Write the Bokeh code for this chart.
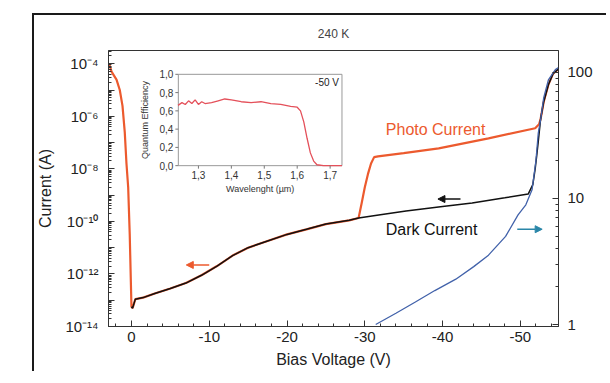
from bokeh.plotting import figure
from bokeh.models import (Range1d, LogAxis, FixedTicker, CustomJSTickFormatter,
                          Arrow, NormalHead, Label, LinearScale)
from bokeh.core.properties import value
from bokeh.embed import file_html
from bokeh.resources import INLINE

# ---------------- data ----------------
photo_v = [2.95, 2.82, 2.56, 1.92, 1.5, 1.15, 0.86, 0.64, 0.42, 0.22, 0.10, 0.02, 0.0,
           -0.15, -0.5, -1.5, -3.0, -5.0, -7.0, -9.0, -11.0, -13.0, -15.0, -17.5, -20.0,
           -22.5, -25.0, -28.0, -29.2, -29.6, -30.0, -30.4, -30.8, -31.2, -31.7, -35.0,
           -39.5, -45.9, -51.9, -52.4, -52.6, -53.0, -53.6, -54.2, -54.9]
photo_i = [9.5e-5, 9.1e-5, 5.0e-5, 2.5e-5, 1.0e-5, 2.5e-6, 2.5e-7, 1.6e-8, 2.0e-9, 3.2e-11,
           1.0e-12, 1.0e-13, 5.6e-14,
           5.0e-14, 1.1e-13, 1.26e-13, 1.8e-13, 2.8e-13, 4.5e-13, 8.9e-13, 2.0e-12, 5.0e-12,
           1.0e-11, 1.8e-11, 3.2e-11, 5.0e-11, 7.9e-11, 1.1e-10, 1.35e-10, 5.0e-10, 2.0e-9,
           6.3e-9, 1.6e-8, 2.8e-8, 3.0e-8, 4.0e-8, 6.0e-8, 1.45e-7, 3.5e-7, 5.0e-7, 7.9e-7,
           3.6e-6, 1.6e-5, 4.2e-5, 6.3e-5]

dark_v = [0.0, -0.15, -0.5, -1.5, -3.0, -5.0, -7.0, -9.0, -11.0, -13.0, -15.0, -17.5, -20.0,
          -22.5, -25.0, -28.0, -29.2, -32.0, -35.3, -40.0, -43.8, -48.0, -51.0, -51.6, -51.9,
          -52.1, -52.3, -52.6, -53.0, -53.6, -54.2, -54.9]
dark_i = [5.6e-14, 5.0e-14, 1.1e-13, 1.26e-13, 1.8e-13, 2.8e-13, 4.5e-13, 8.9e-13, 2.0e-12,
          5.0e-12, 1.0e-11, 1.8e-11, 3.2e-11, 5.0e-11, 7.9e-11, 1.1e-10, 1.35e-10, 1.8e-10,
          2.5e-10, 3.7e-10, 5.0e-10, 7.9e-10, 1.1e-9, 2.5e-9, 1.0e-8, 3.2e-8, 1.1e-7, 7.9e-7,
          3.6e-6, 1.6e-5, 4.2e-5, 6.3e-5]

gain_v = [-31.4, -34.0, -36.5, -39.0, -41.7, -44.0, -45.9, -48.1, -49.7, -50.7, -51.5, -52.0,
          -52.3, -52.6, -53.0, -53.6, -54.5, -55.0]
gain = [1.0, 1.23, 1.51, 1.86, 2.29, 2.88, 3.55, 5.0, 7.4, 8.9, 11.7, 20.0, 33.0, 42.0, 63.0,
        87.0, 105.0, 110.0]

qe_wl = [1.238, 1.25, 1.26, 1.27, 1.28, 1.29, 1.30, 1.31, 1.32, 1.34, 1.36, 1.38, 1.40, 1.43,
         1.46, 1.49, 1.52, 1.55, 1.58, 1.60, 1.61, 1.62, 1.63, 1.64, 1.65, 1.66, 1.68, 1.70, 1.736]
qe = [0.66, 0.69, 0.67, 0.71, 0.68, 0.72, 0.67, 0.70, 0.68, 0.69, 0.71, 0.73, 0.72, 0.70,
      0.69, 0.70, 0.68, 0.67, 0.65, 0.64, 0.60, 0.48, 0.30, 0.14, 0.05, 0.01, 0.0, 0.0, 0.0]

v_ticks = [0, -10, -20, -30, -40, -50]
v_labels = ["0", "-10", "-20", "-30", "-40", "-50"]
current_ticks = [1e-14, 1e-13, 1e-12, 1e-11, 1e-10, 1e-9, 1e-8, 1e-7, 1e-6, 1e-5, 1e-4]
current_labels = ["10\u207b\u00b9\u2074", "", "10\u207b\u00b9\u00b2", "", "10\u207b\u00b9\u2070", "",
                  "10\u207b\u2078", "", "10\u207b\u2076", "", "10\u207b\u2074"]
gain_ticks = [1, 10, 100]
gain_labels = ["1", "10", "100"]
wl_ticks = [1.3, 1.4, 1.5, 1.6, 1.7]
wl_labels = ["1,3", "1,4", "1,5", "1,6", "1,7"]
qe_ticks = [0.0, 0.2, 0.4, 0.6, 0.8, 1.0]
qe_labels = ["0,0", "0,2", "0,4", "0,6", "0,8", "1,0"]
wl_min, wl_max = 1.239, 1.736      # inset axis limits
qe_min, qe_max = 0.0, 1.0

FONT = "Liberation Sans"
RED = "#ec5a2e"
BLUE = "#4262aa"

LOG_LOOKUP = """
for (let i = 0; i < tvals.length; i++) {
  if (Math.abs(Math.log10(tvals[i]) - Math.log10(tick)) < 1e-6) return tlabels[i];
}
return "";
"""
LIN_LOOKUP = """
for (let i = 0; i < tvals.length; i++) {
  if (Math.abs(tvals[i] - tick) < 1e-6) return tlabels[i];
}
return "";
"""

# ---------------- main figure ----------------
p = figure(width=574, height=358, output_backend="svg", toolbar_location=None,
           x_range=Range1d(2.95, -54.9), y_range=Range1d(1e-14, 3.2e-4),
           y_axis_type="log", min_border_left=73, min_border_right=50,
           min_border_top=33, min_border_bottom=47, title="240 K")
p.styles = {"margin-left": "34px", "margin-top": "15px",
            "box-shadow": "-2px -2px 0 0 #1a1a1a"}
p.title.align = "center"
p.title.text_font = FONT
p.title.text_font_size = "12px"
p.title.text_font_style = "normal"
p.title.standoff = 19
p.grid.visible = False
p.outline_line_color = "#333333"
p.outline_line_width = 1
p.background_fill_color = "white"
p.border_fill_color = "white"

# secondary scales: gain (log, right axis) and the inset's own linear frame
p.extra_y_ranges = {"gain": Range1d(0.965, 149), "qe": Range1d(-1.76087, 1.26087)}
p.extra_y_scales = {"qe": LinearScale()}
p.extra_x_ranges = {"wl": Range1d(1.02687, 2.39362)}

xa = p.xaxis[0]
xa.ticker = FixedTicker(ticks=v_ticks, minor_ticks=list(range(-54, 3, 2)))
xa.formatter = CustomJSTickFormatter(args=dict(tvals=v_ticks, tlabels=v_labels), code=LIN_LOOKUP)
xa.axis_label = "Bias Voltage (V)"

ya = p.yaxis[0]
ya.ticker = FixedTicker(ticks=current_ticks,
                        minor_ticks=[k * 10.0 ** e for e in range(-14, -3) for k in range(2, 10)])
ya.formatter = CustomJSTickFormatter(args=dict(tvals=current_ticks, tlabels=current_labels),
                                     code=LOG_LOOKUP)
ya.axis_label = "Current (A)"

ga = LogAxis(y_range_name="gain")
ga.ticker = FixedTicker(ticks=gain_ticks,
                        minor_ticks=[k * 10.0 ** e for e in range(0, 3) for k in range(2, 10)])
ga.formatter = CustomJSTickFormatter(args=dict(tvals=gain_ticks, tlabels=gain_labels),
                                     code=LOG_LOOKUP)
p.add_layout(ga, "right")

for ax in [xa, ya, ga]:
    ax.major_tick_in = 6
    ax.major_tick_out = 0
    ax.minor_tick_in = 3
    ax.minor_tick_out = 0
    ax.axis_line_color = "#333333"
    ax.major_tick_line_color = "#333333"
    ax.minor_tick_line_color = "#333333"
    ax.major_label_text_font = FONT
    ax.major_label_text_font_size = "15px"
    ax.major_label_text_color = "#222222"
    ax.axis_label_text_font = FONT
    ax.axis_label_text_font_size = "16px"
    ax.axis_label_text_font_style = "normal"
    ax.axis_label_text_color = "#222222"
xa.major_label_standoff = 5
xa.axis_label_standoff = 6
ya.major_label_standoff = 10
ya.axis_label_standoff = 8
ga.major_label_standoff = 9

# right-hand axis title (placed just right of the gain tick labels)
p.add_layout(Label(x=-60.2, y=14.6, y_range_name="gain", text="Gain",
                   angle=1.5708, text_font=FONT, text_font_size="16px",
                   text_color="#222222", text_align="center", text_baseline="middle"))

p.line(photo_v, photo_i, line_color=RED, line_width=2.2)
p.line(dark_v, dark_i, line_color="#111111", line_width=1.5)
p.line(gain_v, gain, line_color=BLUE, line_width=1.3, y_range_name="gain")

p.add_layout(Arrow(end=NormalHead(size=7, fill_color=RED, line_color=RED),
                   x_start=-10.0, y_start=2.2e-12, x_end=-7.05, y_end=2.2e-12,
                   line_color=RED, line_width=1.5))
p.add_layout(Arrow(end=NormalHead(size=7, fill_color="#111111", line_color="#111111"),
                   x_start=-42.3, y_start=7.1e-10, x_end=-39.4, y_end=7.1e-10,
                   line_color="#111111", line_width=1.5))
p.add_layout(Arrow(end=NormalHead(size=7, fill_color="#2a86a8", line_color="#2a86a8"),
                   x_start=-49.6, y_start=5.7, x_end=-52.8, y_end=5.7,
                   line_color="#2a86a8", line_width=1.5, y_range_name="gain"))

p.add_layout(Label(x=-32.7, y=3.1e-7, text="Photo Current", text_font=FONT,
                   text_font_size="16px", text_color=RED, text_baseline="middle"))
p.add_layout(Label(x=-32.7, y=4.8e-11, text="Dark Current", text_font=FONT,
                   text_font_size="16px", text_color="#111111", text_baseline="middle"))

# ---------------- inset (quantum efficiency at -50 V) ----------------
IX = dict(x_range_name="wl", y_range_name="qe")
p.quad(left=[wl_min], right=[wl_max], bottom=[qe_min], top=[qe_max],
       fill_color="white", line_color="#999999", line_width=1, **IX)
p.line(qe_wl, qe, line_color="#e4505a", line_width=1.3, **IX)
# inset ticks (outward, 3 px) and tick labels
p.segment(x0=wl_ticks, y0=[qe_min] * len(wl_ticks), x1=wl_ticks,
          y1=[qe_min - 3 / 92] * len(wl_ticks), line_color="#777777", line_width=1, **IX)
p.segment(x0=[wl_min] * len(qe_ticks), y0=qe_ticks, x1=[wl_min - 3 / 330] * len(qe_ticks),
          y1=qe_ticks, line_color="#777777", line_width=1, **IX)
p.text(x=wl_ticks, y=[qe_min] * len(wl_ticks), text=wl_labels, y_offset=5,
       text_font=value(FONT), text_font_size="10px", text_color="#333333",
       text_align="center", text_baseline="top", **IX)
p.text(x=[wl_min] * len(qe_ticks), y=qe_ticks, text=qe_labels, x_offset=-5,
       text_font=value(FONT), text_font_size="10px", text_color="#333333",
       text_align="right", text_baseline="middle", **IX)
p.text(x=[(wl_min + wl_max) / 2], y=[qe_min], text=["Wavelenght (\u00b5m)"], y_offset=18,
       text_font=value(FONT), text_font_size="9px", text_color="#333333",
       text_align="center", text_baseline="top", **IX)
p.text(x=[wl_min], y=[(qe_min + qe_max) / 2], text=["Quantum Efficiency"], x_offset=-28,
       angle=1.5708, text_font=value(FONT), text_font_size="9px", text_color="#333333",
       text_align="center", text_baseline="bottom", **IX)
p.text(x=[wl_max], y=[qe_max], text=["-50 V"], x_offset=-3, y_offset=3,
       text_font=value(FONT), text_font_size="10px", text_color="#222222",
       text_align="right", text_baseline="top", **IX)

open("out.html", "w").write(file_html(p, INLINE))
